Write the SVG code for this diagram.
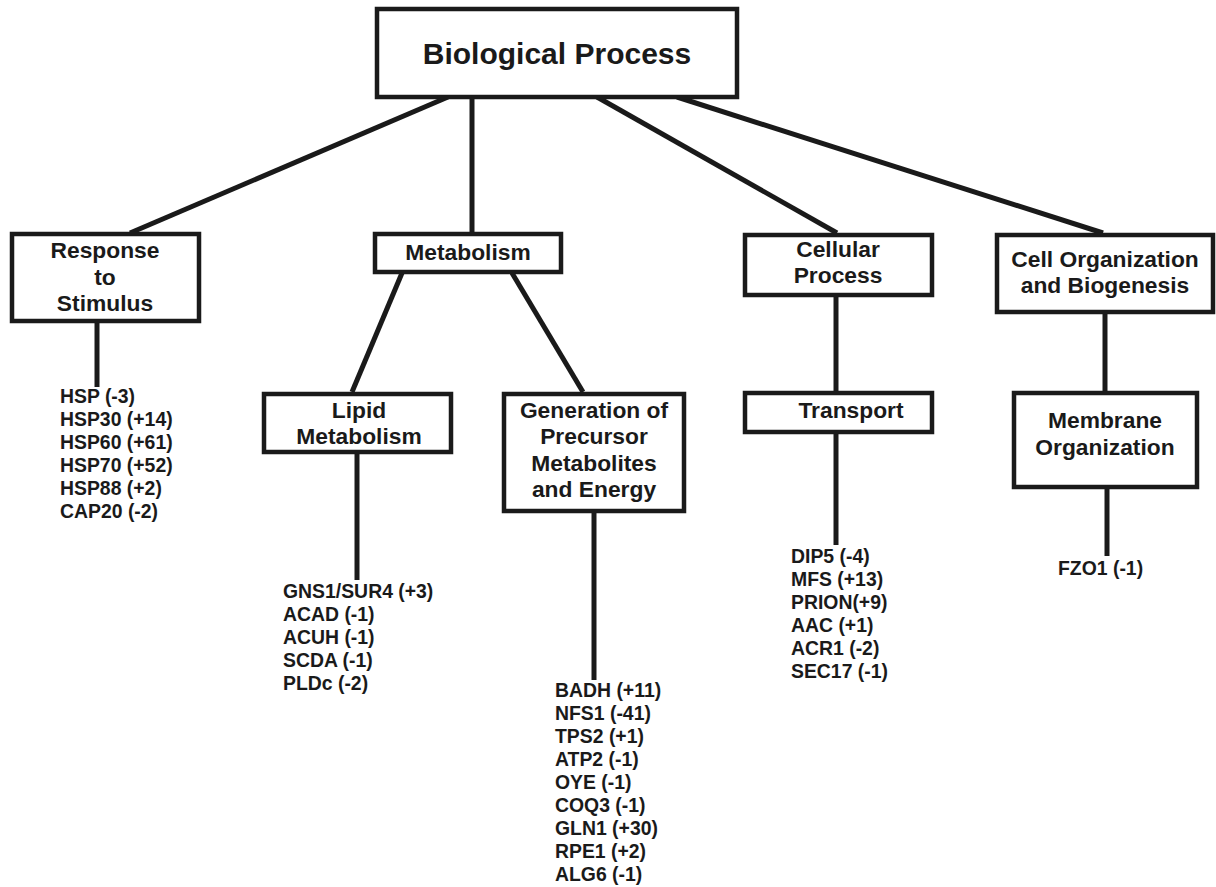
<svg xmlns="http://www.w3.org/2000/svg" width="1216" height="887" viewBox="0 0 1216 887">
<style>
.box{fill:#fff;stroke:#1a1a1a;stroke-width:4.5}
.ln{stroke:#1a1a1a;stroke-width:5;fill:none}
.t{font-family:"Liberation Sans",Arial,sans-serif;font-weight:bold;fill:#1a1a1a;font-size:22.8px;text-anchor:middle}
.g{font-family:"Liberation Sans",Arial,sans-serif;font-weight:bold;fill:#1a1a1a;font-size:19.4px}
</style>
<rect width="1216" height="887" fill="#fff"/>
<g id="connectors">
<line class="ln" x1="448" y1="97" x2="130" y2="233"/>
<line class="ln" x1="472" y1="97" x2="472" y2="233"/>
<line class="ln" x1="597" y1="97" x2="837" y2="233"/>
<line class="ln" x1="677" y1="97" x2="1103" y2="233"/>
<line class="ln" x1="97" y1="322" x2="97" y2="387"/>
<line class="ln" x1="402" y1="273" x2="352" y2="392"/>
<line class="ln" x1="512" y1="273" x2="583" y2="392"/>
<line class="ln" x1="357" y1="453" x2="357" y2="580"/>
<line class="ln" x1="594" y1="512" x2="594" y2="680"/>
<line class="ln" x1="836" y1="296" x2="836" y2="391"/>
<line class="ln" x1="836" y1="433" x2="836" y2="545"/>
<line class="ln" x1="1105" y1="313" x2="1105" y2="392"/>
<line class="ln" x1="1107" y1="488" x2="1107" y2="556"/>
</g>
<g id="biological-process">
<rect class="box" x="377" y="9" width="360" height="88"/>
<text class="t" x="557" y="64" style="font-size:30px">Biological Process</text>
</g>
<g id="response">
<rect class="box" x="12" y="234" width="187" height="87"/>
<text class="t" x="105" y="258">Response</text>
<text class="t" x="105" y="285">to</text>
<text class="t" x="105" y="311">Stimulus</text>
</g>
<g id="metabolism">
<rect class="box" x="375" y="234" width="186" height="38"/>
<text class="t" x="468" y="260">Metabolism</text>
</g>
<g id="cellular">
<rect class="box" x="745" y="235" width="187" height="60"/>
<text class="t" x="838" y="257">Cellular</text>
<text class="t" x="838" y="283">Process</text>
</g>
<g id="cell-org">
<rect class="box" x="997" y="235" width="216" height="77"/>
<text class="t" x="1105" y="267">Cell Organization</text>
<text class="t" x="1105" y="293">and Biogenesis</text>
</g>
<g id="lipid">
<rect class="box" x="264" y="394" width="187" height="58"/>
<text class="t" x="359" y="418">Lipid</text>
<text class="t" x="359" y="444">Metabolism</text>
</g>
<g id="generation">
<rect class="box" x="504" y="394" width="180" height="117"/>
<text class="t" x="594" y="418">Generation of</text>
<text class="t" x="594" y="444">Precursor</text>
<text class="t" x="594" y="471">Metabolites</text>
<text class="t" x="594" y="497">and Energy</text>
</g>
<g id="transport">
<rect class="box" x="745" y="393" width="187" height="39"/>
<text class="t" x="851" y="418">Transport</text>
</g>
<g id="membrane">
<rect class="box" x="1014" y="393" width="183" height="94"/>
<text class="t" x="1105" y="428">Membrane</text>
<text class="t" x="1105" y="455">Organization</text>
</g>
<g id="hsp-list">
<text class="g" x="60" y="403">HSP (-3)</text>
<text class="g" x="60" y="426">HSP30 (+14)</text>
<text class="g" x="60" y="449">HSP60 (+61)</text>
<text class="g" x="60" y="472">HSP70 (+52)</text>
<text class="g" x="60" y="495">HSP88 (+2)</text>
<text class="g" x="60" y="518">CAP20 (-2)</text>
</g>
<g id="lipid-list">
<text class="g" x="283" y="598">GNS1/SUR4 (+3)</text>
<text class="g" x="283" y="621">ACAD (-1)</text>
<text class="g" x="283" y="644">ACUH (-1)</text>
<text class="g" x="283" y="667">SCDA (-1)</text>
<text class="g" x="283" y="690">PLDc (-2)</text>
</g>
<g id="generation-list">
<text class="g" x="555" y="697">BADH (+11)</text>
<text class="g" x="555" y="720">NFS1 (-41)</text>
<text class="g" x="555" y="743">TPS2 (+1)</text>
<text class="g" x="555" y="766">ATP2 (-1)</text>
<text class="g" x="555" y="789">OYE (-1)</text>
<text class="g" x="555" y="812">COQ3 (-1)</text>
<text class="g" x="555" y="835">GLN1 (+30)</text>
<text class="g" x="555" y="858">RPE1 (+2)</text>
<text class="g" x="555" y="881">ALG6 (-1)</text>
</g>
<g id="transport-list">
<text class="g" x="791" y="563">DIP5 (-4)</text>
<text class="g" x="791" y="586">MFS (+13)</text>
<text class="g" x="791" y="609">PRION(+9)</text>
<text class="g" x="791" y="632">AAC (+1)</text>
<text class="g" x="791" y="655">ACR1 (-2)</text>
<text class="g" x="791" y="678">SEC17 (-1)</text>
</g>
<g id="membrane-list">
<text class="g" x="1058" y="575">FZO1 (-1)</text>
</g>
</svg>
